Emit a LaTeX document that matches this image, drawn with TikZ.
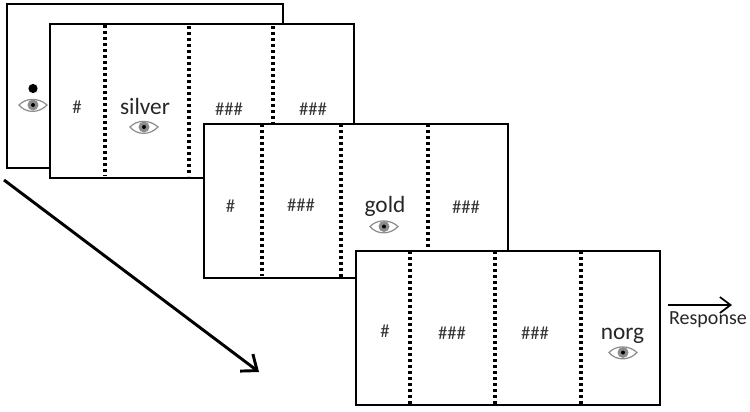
\documentclass[tikz,border=0pt]{standalone}
\usepackage{fontspec}
\setmainfont{Carlito}
\usetikzlibrary{arrows.meta}

\tikzset{
  frame/.style={draw=black,line width=1.5pt,fill=white,inner sep=0pt,minimum width=228pt,minimum height=115.5pt},
  backframe/.style={frame,minimum width=207pt,minimum height=123pt},
  divider/.style={black,line width=2.3pt,dash pattern=on 2.3pt off 2.2pt},
  mask/.style={font=\fontsize{14}{16}\selectfont,text=black!80,inner sep=0pt},
  word/.style={font=\fontsize{17.5}{20}\selectfont,text=black!85,inner sep=0pt},
  pointer/.style={black,line width=2.2pt,-{Straight Barb[length=10pt,width=16pt,line width=2.2pt]}},
  eyeicon/.pic={
    \path [draw=black!45,line width=0.9pt,fill=white] (-14,0) .. controls (-7,-8.5) and (6,-8.5) .. (14,0) .. controls (6,7.5) and (-7,7.5) .. (-14,0) -- cycle ;
    \fill [black!45] (0,0) circle [radius=5.5] ;
    \fill [black] (0,0) circle [radius=2] ;
  }
}

\begin{document}
\begin{tikzpicture}[x=0.75pt,y=0.75pt,yscale=-1,xscale=1]
\useasboundingbox (0,0) rectangle (750,411);

% Fixation screen
\node [backframe] (fixation) at (145,86) {};
\fill [black] (33,88.5) circle [radius=4.6] ;
\path (33,105) pic {eyeicon};

% First screen
\node [frame] (first) at (202,101) {};
\draw [divider] (105,25) -- (105,176);
\draw [divider] (189,26) -- (189,176);
\draw [divider] (273,26) -- (273,124);
\node [mask] (firsta) at (77,107.5) {\#};
\node [word] (silver) at (145,106) {silver};
\node [mask] (firstc) at (229,109) {\#\#\#};
\node [mask] (firstd) at (313,109) {\#\#\#};
\path (144,127) pic {eyeicon};

% Second screen
\node [frame] (second) at (356,200.5) {};
\draw [divider] (262,124) -- (262,276);
\draw [divider] (341,124) -- (341,278);
\draw [divider] (428,124) -- (428,251);
\node [mask] (seconda) at (230.5,206.5) {\#};
\node [mask] (secondb) at (301,205.5) {\#\#\#};
\node [word] (gold) at (385,206) {gold};
\node [mask] (secondd) at (466,207.5) {\#\#\#};
\path (384,226.5) pic {eyeicon};

% Third screen
\node [frame] (third) at (508,328) {};
\draw [divider] (410,251) -- (410,404);
\draw [divider] (495,251) -- (495,404);
\draw [divider] (581,251) -- (581,406);
\node [mask] (thirda) at (385,331) {\#};
\node [mask] (thirdb) at (452,333) {\#\#\#};
\node [mask] (thirdc) at (535,333) {\#\#\#};
\node [word] (norg) at (622.5,336) {norg};
\path (623,352.5) pic {eyeicon};

% Time arrow and response arrow
\coordinate (timestart) at (4,180);
\coordinate (timeend) at (259,372);
\draw [pointer] (timestart) -- (timeend);
\coordinate (respstart) at (668,305);
\coordinate (respend) at (732,305);
\draw [pointer,line width=1.1pt,-{Straight Barb[length=8pt,width=12pt,line width=1.3pt]}] (respstart) -- (respend);
\node [inner sep=0pt,font=\fontsize{15}{18}\selectfont,text=black!85] (response) at (708,319.5) {Response};

\end{tikzpicture}
\end{document}
